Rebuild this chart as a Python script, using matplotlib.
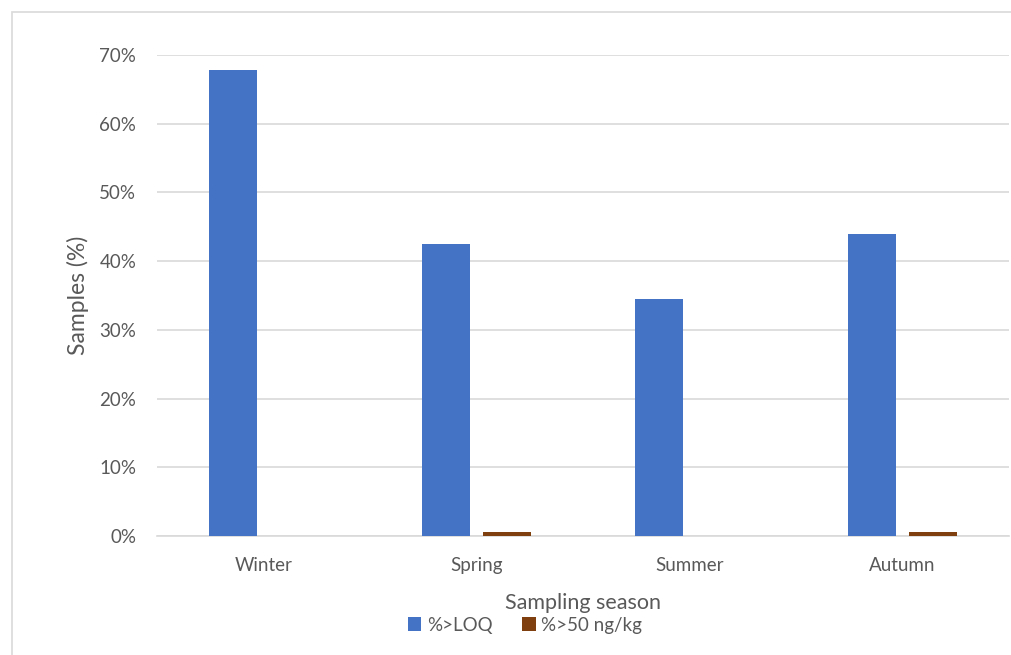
import numpy as np
import matplotlib.pyplot as plt
from matplotlib.patches import Rectangle

# datos
seasons = ["Winter", "Spring", "Summer", "Autumn"]
pct_loq = [0.678, 0.425, 0.345, 0.440]
pct_50 = [0.0, 0.006, 0.0, 0.006]
yticks = [0, 0.1, 0.2, 0.3, 0.4, 0.5, 0.6, 0.7]

plt.rcParams['font.family'] = ['Lato', 'DejaVu Sans']
gris = '#595959'

fig = plt.figure(figsize=(10.11, 6.55), dpi=100)
ax = fig.add_axes([157/1011, 1-536/655, 852/1011, (536-55)/655])

# borde exterior del grafico
fig.patches.append(Rectangle((12/1011, -0.1), 1.1, 1-12/655+0.1, transform=fig.transFigure,
                             fill=False, edgecolor='#d9d9d9', linewidth=1.2))

x = np.arange(len(seasons))
ancho = 0.225
ax.bar(x - 0.143, pct_loq, ancho, color='#4472C4', label='%>LOQ', zorder=3)
ax.bar(x + 0.143, pct_50, ancho, color='#7F3F0F', label='%>50 ng/kg', zorder=3)

ax.set_xlim(-0.5, 3.5)
ax.set_ylim(0, 0.7)
ax.set_yticks(yticks)
ax.set_yticklabels([f"{int(round(t*100))}%" for t in yticks], fontsize=13.5, color=gris)
ax.set_xticks(x)
ax.set_xticklabels(seasons, fontsize=13.5, color=gris)
ax.tick_params(axis='y', length=0, pad=15)
ax.tick_params(axis='x', length=0, pad=15)
ax.grid(axis='y', color='#d9d9d9', linewidth=1.2, zorder=0)
for s in ['top', 'right', 'left']:
    ax.spines[s].set_visible(False)
ax.spines['bottom'].set_color('#d9d9d9')
ax.spines['bottom'].set_linewidth(1.2)

ax.set_ylabel("Samples (%)", fontsize=16.5, color=gris, labelpad=7)
ax.set_xlabel("Sampling season", fontsize=15.5, color=gris, labelpad=14)

fig.legend(loc='center', bbox_to_anchor=(525/1011, 1-625/655), ncol=2, frameon=False,
           fontsize=13.5, handlelength=0.7, handleheight=0.7, handletextpad=0.3,
           columnspacing=1.6, labelcolor=gris)

plt.savefig("out.png", dpi=100)
